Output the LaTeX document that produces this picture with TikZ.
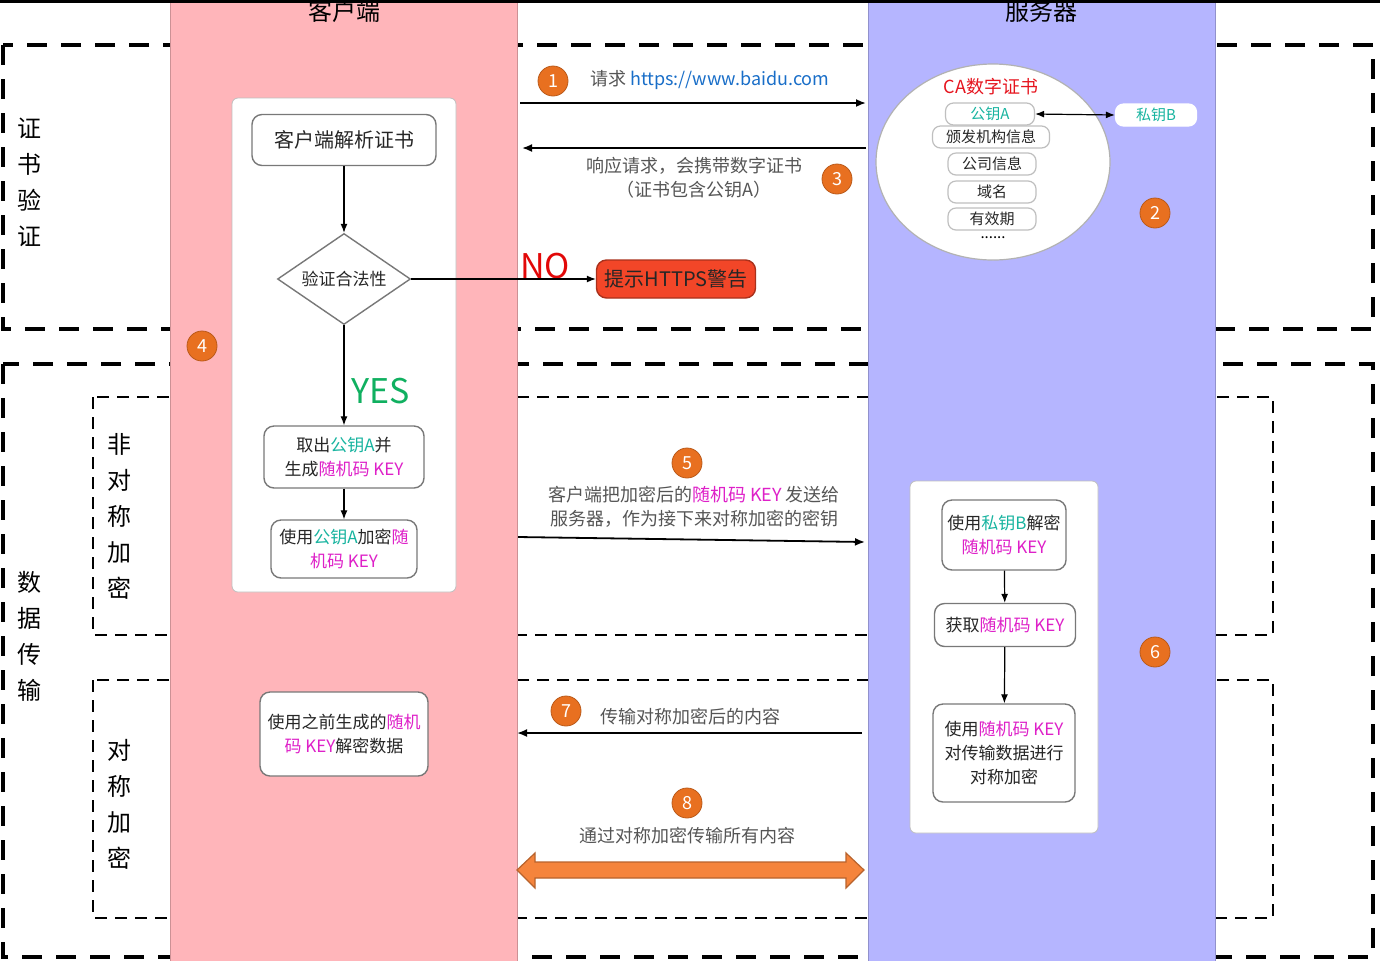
\documentclass[tikz,border=0pt]{standalone}
\usepackage{fontspec}
\setmainfont{Noto Sans CJK SC}
\usetikzlibrary{arrows.meta,shapes.geometric}

\definecolor{clientpink}{RGB}{255,181,186}
\definecolor{serverblue}{RGB}{181,181,255}
\definecolor{badgeorange}{RGB}{232,112,32}
\definecolor{keyteal}{RGB}{24,180,160}
\definecolor{keypink}{RGB}{222,32,200}
\definecolor{urlblue}{RGB}{25,110,200}
\definecolor{textgrey}{RGB}{85,85,85}
\definecolor{warnred}{RGB}{242,70,40}
\definecolor{yesgreen}{RGB}{16,176,96}
\definecolor{nored}{RGB}{226,8,8}
\definecolor{certred}{RGB}{230,20,30}
\definecolor{boxgrey}{RGB}{120,120,120}
\definecolor{arroworange}{RGB}{245,132,60}

\newcommand{\pubA}{\textcolor{keyteal}{公钥A}}
\newcommand{\privB}{\textcolor{keyteal}{私钥B}}
\newcommand{\randkey}{\textcolor{keypink}{随机码 KEY}}

\tikzset{
  bigdash/.style={line width=2pt,dash pattern=on 10pt off 7pt},
  smalldash/.style={line width=1pt,dash pattern=on 6pt off 4pt},
  lane/.style={draw=#1!80!black,line width=0.4pt,fill=#1},
  holder/.style={draw=black!25,fill=white,rounded corners=3pt},
  stepbox/.style={draw=boxgrey,line width=0.7pt,rounded corners=5pt,fill=white,
    align=center,inner sep=0pt,text=black!85,font=\fontsize{8.5}{12}\selectfont},
  certitem/.style={draw=black!25,line width=0.6pt,rounded corners=4pt,fill=white,
    inner sep=0pt,minimum height=11pt,text=black!85,font=\fontsize{7.5}{9}\selectfont},
  badge/.style={circle,fill=badgeorange,draw=badgeorange!80!black,line width=0.4pt,
    minimum size=15pt,inner sep=0pt,text=white,font=\fontsize{9}{9}\selectfont},
  note/.style={align=center,text=textgrey,font=\fontsize{9}{12}\selectfont},
  section/.style={align=center,font=\fontsize{12}{18}\selectfont},
  flow/.style={-{Latex[length=5pt,width=4pt]},line width=0.9pt},
  inflow/.style={-{Latex[length=4.5pt,width=3.5pt]},line width=0.6pt}
}

\begin{document}
\begin{tikzpicture}[x=0.5pt,y=-0.5pt]
  \useasboundingbox (0,0) rectangle (1380,960);

  \draw[bigdash] (3,45) rectangle (1373,329);
  \draw[bigdash] (3,364) rectangle (1373,957);
  \draw[smalldash] (93,397) rectangle (1273,635);
  \draw[smalldash] (93,680) rectangle (1273,918);

  \draw[lane=clientpink] (170,-5) rectangle (517,965);
  \draw[lane=serverblue] (868,-5) rectangle (1215,965);

  \node[section] (client) at (344,11) {客户端};
  \node[section] (server) at (1041,11) {服务器};
  \fill[black] (0,0) rectangle (1380,3);

  \node[section] (verify) at (30,182) {证\\书\\验\\证};
  \node[section] (transfer) at (30,636) {数\\据\\传\\输};
  \node[section] (asym) at (119,516) {非\\对\\称\\加\\密};
  \node[section] (sym) at (119,804) {对\\称\\加\\密};

  \draw[holder] (232,98) rectangle (456,592);
  \draw[holder] (910,481) rectangle (1098,833);

  \node[stepbox,minimum width=92pt,minimum height=25.5pt,font=\fontsize{10}{12}\selectfont]
    (parse) at (344,140) {客户端解析证书};
  \node[stepbox,diamond,rounded corners=0pt,aspect=1.46,minimum width=66.5pt,minimum height=45.5pt]
    (check) at (344,279) {验证合法性};
  \node[stepbox,minimum width=80pt,minimum height=31pt] (gen) at (344,457)
    {取出\pubA 并\\生成\randkey};
  \node[stepbox,minimum width=73pt,minimum height=29pt] (enc) at (344,549)
    {使用\pubA 加密\textcolor{keypink}{随}\\\textcolor{keypink}{机码 KEY}};
  \node[stepbox,minimum width=84pt,minimum height=42pt] (dec) at (344,734)
    {使用之前生成的\textcolor{keypink}{随机}\\\textcolor{keypink}{码 KEY}解密数据};
  \node[stepbox,draw=warnred!70!black,fill=warnred,minimum width=79.5pt,minimum height=19pt,
    font=\fontsize{10}{12}\selectfont] (warn) at (676,279) {提示HTTPS警告};

  \node[font=\fontsize{17}{17}\selectfont,text=nored] (no) at (545,266) {NO};
  \node[font=\fontsize{17}{17}\selectfont,text=yesgreen] (yes) at (381,391) {YES};

  \node[ellipse,draw=black!30,fill=white,line width=0.6pt,minimum width=117pt,minimum height=98pt]
    (cert) at (993,162) {};
  \node[text=certred,font=\fontsize{9}{9}\selectfont] (certtitle) at (991,87) {CA数字证书};
  \node[certitem,minimum width=44.5pt] (keya) at (990,114) {\pubA};
  \node[certitem,minimum width=58.5pt] (issuer) at (991,137) {颁发机构信息};
  \node[certitem,minimum width=44pt] (company) at (992,164) {公司信息};
  \node[certitem,minimum width=44pt] (domain) at (992,192) {域名};
  \node[certitem,minimum width=44pt] (valid) at (992,219) {有效期};
  \node[font=\fontsize{7.5}{7.5}\selectfont] (more) at (993,238) {......};
  \node[certitem,draw=white,minimum width=40.5pt] (keyb) at (1156,115) {\privB};

  \node[stepbox,minimum width=62pt,minimum height=35pt] (decb) at (1004,535)
    {使用\privB 解密\\\randkey};
  \node[stepbox,minimum width=70.5pt,minimum height=21.5pt] (getkey) at (1005,625)
    {获取\randkey};
  \node[stepbox,minimum width=71pt,minimum height=49pt] (symenc) at (1004,753)
    {使用\randkey\\对传输数据进行\\对称加密};

  \coordinate (req0) at (520,103);
  \coordinate (req1) at (866,103);
  \coordinate (res0) at (866,148);
  \coordinate (res1) at (522,148);
  \coordinate (snd0) at (518,537);
  \coordinate (snd1) at (865,542);
  \coordinate (dat0) at (862,733);
  \coordinate (dat1) at (517,733);

  \draw[flow] (req0) -- (req1);
  \draw[flow] (res0) -- (res1);
  \draw[flow] (snd0) -- (snd1);
  \draw[flow] (dat0) -- (dat1);
  \draw[inflow] (check.east) -- (warn.west);
  \draw[{Latex[length=4.5pt,width=3.5pt]}-{Latex[length=4.5pt,width=3.5pt]},line width=0.6pt]
    (keya.east) -- (keyb.west);

  \begin{scope}[inflow]
    \draw (parse) -- (check);
    \draw (check) -- (gen);
    \draw (gen) -- (enc);
    \draw (decb) -- (getkey);
    \draw (getkey) -- (symenc);
  \end{scope}

  \draw[fill=arroworange,draw=arroworange!75!black,line width=0.6pt]
    (517,870) -- (535,853) -- (535,862) -- (846,862) -- (846,853) -- (864,870)
    -- (846,888) -- (846,878) -- (535,878) -- (535,888) -- cycle;

  \node[note,anchor=west] (reqtext) at (583,80) {请求 \textcolor{urlblue}{https://www.baidu.com}};
  \node[note] (restext) at (694,178) {响应请求，会携带数字证书\\（证书包含公钥A）};
  \node[note] (sndtext) at (694,507) {客户端把加密后的\randkey{} 发送给\\服务器，作为接下来对称加密的密钥};
  \node[note] (dattext) at (690,717) {传输对称加密后的内容};
  \node[note] (alltext) at (687,836) {通过对称加密传输所有内容};

  \node[badge] (b1) at (553,81) {1};
  \node[badge] (b2) at (1155,213) {2};
  \node[badge] (b3) at (837,179) {3};
  \node[badge] (b4) at (202,346) {4};
  \node[badge] (b5) at (687,463) {5};
  \node[badge] (b6) at (1155,652) {6};
  \node[badge] (b7) at (566,711) {7};
  \node[badge] (b8) at (687,803) {8};
\end{tikzpicture}
\end{document}
